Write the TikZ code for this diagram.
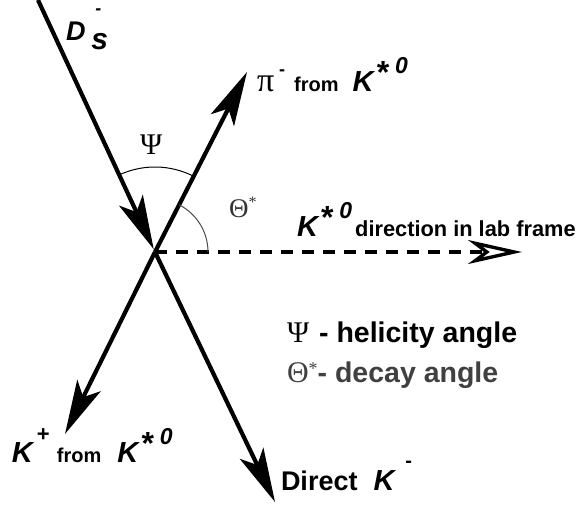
\documentclass[tikz,border=0pt]{standalone}
\usepackage{fontspec}
\setmainfont{Liberation Sans}
\newfontfamily\grk{Liberation Serif}
\usetikzlibrary{arrows.meta,angles}
\newcommand{\fsz}[1]{\fontsize{#1}{#1}\selectfont}
\newcommand{\bfit}{\bfseries\itshape}
\newcommand{\kstar}{{\fsz{29}\bfit K\hspace{2pt}\raisebox{8pt}{\fsz{32}*}\hspace{7pt}\raisebox{18pt}{\fsz{23}0}}}

\begin{document}
\begin{tikzpicture}[x=1pt,y=1pt,
  track/.style={line width=4.2pt,-{Stealth[length=54pt,width=26pt,inset=13pt]}},
  labdir/.style={line width=3.4pt,dash pattern=on 12pt off 9pt,-{Stealth[open,length=54pt,width=24pt,inset=16pt]}},
  lbl/.style={inner sep=0pt,outer sep=0pt,anchor=base west},
  arcpsi/.style={draw,line width=1pt,angle radius=85pt},
  arctheta/.style={draw=black!70,line width=1pt,angle radius=53pt}
]
\useasboundingbox (0,0) rectangle (581,506);
\coordinate (V) at (155,254);
\coordinate (ds) at (38,506);
\coordinate (pi) at (247,434);
\coordinate (kp) at (65,72);
\coordinate (dk) at (275,4);
\coordinate (lab) at (522,254);
\draw[track,shorten >=3pt] (ds) -- (V);
\draw[track] (V) -- (pi);
\draw[track] (V) -- (kp);
\draw[track] (V) -- (dk);
\draw[labdir] (V) -- (lab);
\pic[arcpsi] {angle=pi--V--ds};
\pic[arctheta] {angle=lab--V--pi};
\node[lbl] (dslbl) at (66,465) {\fsz{27}\bfit D\hspace{6pt}\rlap{\raisebox{-9pt}{\fsz{30}s}}\hspace{4pt}\raisebox{26pt}{\fsz{18}-}};
\node[lbl] (pilbl) at (257,414) {{\grk\fsz{34}π}\hspace{5pt}\raisebox{16pt}{\fsz{18}\bfseries -}\hspace{9pt}{\fsz{20}\bfseries from}\hspace{14pt}\kstar};
\node[lbl] (labllbl) at (297,269) {\kstar\hspace{3pt}{\fsz{21.8}\bfseries direction in lab frame}};
\node[lbl] (kplbl) at (12,43) {{\fsz{29}\bfit K}\hspace{4pt}\rlap{\raisebox{21pt}{\fsz{22}\bfseries +}}\hspace{20pt}{\fsz{20}\bfseries from}\hspace{16pt}\kstar};
\node[lbl] (dklbl) at (281,16) {{\fsz{27}\bfseries Direct}\hspace{16pt}{\fsz{29}\bfit K}\hspace{11pt}\raisebox{22pt}{\fsz{20}\bfseries -}};
\node[lbl] (psilbl) at (140,351) {\grk\fsz{30}Ψ};
\node[lbl,text=black!80] (thlbl) at (229,288) {\grk\fsz{27}Θ\raisebox{10pt}{\fsz{16}*}};
\node[lbl] (psileg) at (287,163) {{\grk\fsz{30}Ψ}\hspace{10pt}{\fsz{28.5}\bfseries - helicity angle}};
\node[lbl,text=black!75] (thleg) at (287,123) {{\grk\fsz{30}Θ}\raisebox{8pt}{\grk\fsz{18}*}{\fsz{28.5}\bfseries - decay angle}};
\end{tikzpicture}
\end{document}
